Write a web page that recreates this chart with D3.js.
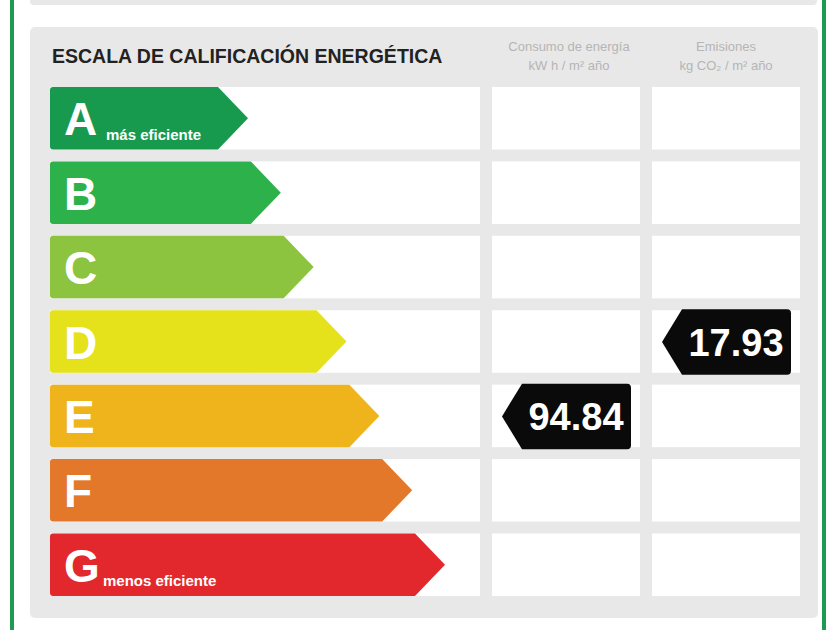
<!DOCTYPE html>
<html><head><meta charset="utf-8">
<script src="https://d3js.org/d3.v7.min.js"></script>
<style>body{margin:0;background:#fff}</style>
</head><body>
<script>
const grades = ["A","B","C","D","E","F","G"];
const gradeColors = ["#17994e","#2db14a","#8dc43f","#e5e21b","#efb31b","#e4782a","#e2282c"];
const subLabels = {A:"más eficiente", G:"menos eficiente"};
const consumo = {grade:"E", value:"94.84"};
const emisiones = {grade:"D", value:"17.93"};

const svg = d3.select("body").append("svg").attr("width",840).attr("height",630);

// frame
svg.append("rect").attr("x",12).attr("y",-10).attr("width",812).attr("height",660)
  .attr("fill","none").attr("stroke","#1f9a55").attr("stroke-width",4);
svg.append("rect").attr("x",30).attr("y",-10).attr("width",787).attr("height",15).attr("rx",4).attr("fill","#e8e8e8");
svg.append("rect").attr("x",30).attr("y",27).attr("width",788).attr("height",591).attr("rx",5).attr("fill","#e8e8e8");

const y = d3.scaleBand().domain(grades).range([87,596]).paddingInner(0.16).paddingOuter(0);
const tipX = d3.scaleLinear().domain([0,6]).range([248,445]);

svg.append("text").attr("x",52).attr("y",63).text("ESCALA DE CALIFICACIÓN ENERGÉTICA")
  .attr("font-family","Liberation Sans, Arial").attr("font-weight","bold").attr("font-size",19.5).attr("fill","#222");
const hdr = [[569,"Consumo de energía","kW h / m² año"],[726,"Emisiones","kg CO₂ / m² año"]];
hdr.forEach(h=>{
  const t = svg.append("text").attr("x",h[0]).attr("text-anchor","middle")
    .attr("font-family","Liberation Sans, Arial").attr("font-size",13).attr("fill","#b5b5b5");
  t.append("tspan").attr("x",h[0]).attr("y",51).text(h[1]);
  t.append("tspan").attr("x",h[0]).attr("y",70).text(h[2]);
});

const cols = [[50,430],[492,148],[652,148]];
const h = y.bandwidth();
grades.forEach((g,i)=>{
  const y0 = y(g);
  cols.forEach(c=>svg.append("rect").attr("x",c[0]).attr("y",y0).attr("width",c[1]).attr("height",h).attr("fill","#fff"));
  const tx = tipX(i), bx = tx-30;
  svg.append("path").attr("d",`M50,${y0+3}Q50,${y0} 53,${y0}L${bx},${y0}L${tx},${y0+h/2}L${bx},${y0+h}L53,${y0+h}Q50,${y0+h} 50,${y0+h-3}Z`)
    .attr("fill",gradeColors[i]);
  svg.append("text").attr("x",64).attr("y",y0+h/2+17).text(g)
    .attr("font-family","Liberation Sans, Arial").attr("font-weight","bold").attr("font-size",46).attr("fill","#fff");
  if(subLabels[g]) svg.append("text").attr("x",g==="A"?106:103).attr("y",y0+h-10).text(subLabels[g])
    .attr("font-family","Liberation Sans, Arial").attr("font-weight","bold").attr("font-size",15).attr("fill","#fff");
});

function tag(x0, rec){
  const y0 = y(rec.grade)-1, hh = h+3, w = 129;
  svg.append("path").attr("d",`M${x0+w},${y0+4}L${x0+w},${y0+hh-4}Q${x0+w},${y0+hh} ${x0+w-4},${y0+hh}L${x0+20},${y0+hh}L${x0},${y0+hh/2}L${x0+20},${y0}L${x0+w-4},${y0}Q${x0+w},${y0} ${x0+w},${y0+4}Z`)
    .attr("fill","#0a0a0a");
  svg.append("text").attr("x",x0+74).attr("y",y0+hh/2+14).attr("text-anchor","middle").text(rec.value)
    .attr("font-family","Liberation Sans, Arial").attr("font-weight","bold").attr("font-size",38).attr("fill","#fff");
}
tag(502, consumo);
tag(662, emisiones);
</script>
</body></html>
